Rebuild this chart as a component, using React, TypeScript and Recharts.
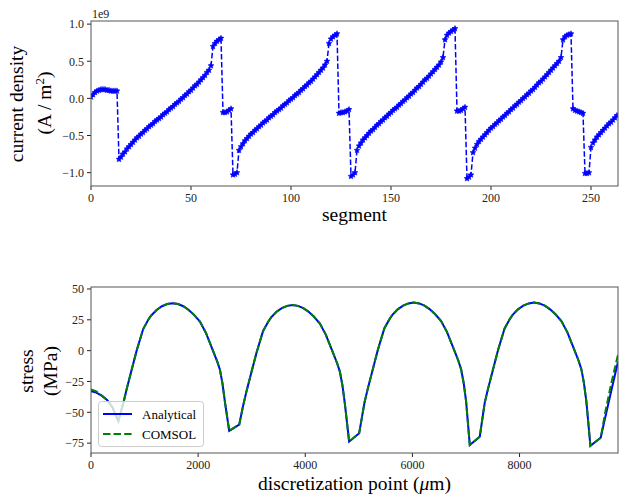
import React from 'react';
import { LineChart, Line, XAxis, YAxis } from 'recharts';

const FONT = '"Liberation Serif", "DejaVu Serif", serif';

// current density per segment (index = segment), in units of 1e9 A/m^2
const currentDensity = [
  0.02, 0.05, 0.08, 0.10, 0.11, 0.12, 0.12, 0.12, 0.11, 0.11, 0.10, 0.10, 0.10, 0.10,
  -0.82, -0.79, -0.75, -0.72, -0.68, -0.65, -0.62, -0.59, -0.56, -0.53,
  -0.51, -0.48, -0.46, -0.43, -0.41, -0.38, -0.36, -0.34, -0.31, -0.29,
  -0.27, -0.25, -0.22, -0.20, -0.18, -0.15, -0.13, -0.11, -0.08, -0.06,
  -0.04, -0.01, 0.01, 0.04, 0.06, 0.09, 0.11, 0.14, 0.17, 0.19,
  0.22, 0.25, 0.28, 0.31, 0.35, 0.38, 0.44,
  0.70, 0.74, 0.77, 0.79, 0.81,
  -0.19, -0.19, -0.18, -0.16, -0.14,
  -1.03, -1.02, -1.00,
  -0.70, -0.65, -0.61, -0.57, -0.54, -0.51, -0.48, -0.46, -0.43, -0.41,
  -0.38, -0.36, -0.33, -0.31, -0.29, -0.26, -0.24, -0.22, -0.19, -0.17,
  -0.15, -0.13, -0.10, -0.08, -0.06, -0.03, -0.01, 0.01, 0.04, 0.06,
  0.08, 0.11, 0.13, 0.16, 0.18, 0.21, 0.23, 0.26, 0.29, 0.32,
  0.35, 0.38, 0.41, 0.45, 0.50,
  0.74, 0.80, 0.83, 0.85, 0.87,
  -0.20, -0.19, -0.19, -0.18, -0.17, -0.15,
  -1.05, -1.03, -1.00,
  -0.70, -0.64, -0.60, -0.56, -0.53, -0.50, -0.47, -0.44, -0.42, -0.39,
  -0.36, -0.34, -0.31, -0.29, -0.26, -0.24, -0.21, -0.19, -0.16, -0.14,
  -0.12, -0.09, -0.07, -0.04, -0.02, 0.01, 0.03, 0.06, 0.08, 0.11,
  0.14, 0.16, 0.19, 0.22, 0.25, 0.27, 0.30, 0.33, 0.36, 0.39,
  0.42, 0.45, 0.49, 0.55,
  0.79, 0.85, 0.88, 0.90, 0.92, 0.94,
  -0.17, -0.17, -0.16, -0.14, -0.12,
  -1.08, -1.06, -1.03,
  -0.73, -0.67, -0.62, -0.58, -0.55, -0.52, -0.49, -0.46, -0.43, -0.40,
  -0.38, -0.35, -0.33, -0.30, -0.28, -0.25, -0.23, -0.20, -0.18, -0.15,
  -0.13, -0.10, -0.08, -0.05, -0.03, 0.00, 0.02, 0.05, 0.07, 0.10,
  0.12, 0.15, 0.18, 0.21, 0.23, 0.26, 0.29, 0.32, 0.35, 0.38,
  0.41, 0.44, 0.47, 0.50, 0.55,
  0.79, 0.83, 0.85, 0.86, 0.87,
  -0.14, -0.16, -0.17, -0.18, -0.19, -0.20,
  -1.01, -1.01, -1.00,
  -0.66, -0.60, -0.56, -0.52, -0.49, -0.46, -0.43, -0.40, -0.37, -0.34, -0.32, -0.29, -0.26, -0.23,
];
const segmentTicks = [0, 50, 100, 150, 200, 250];
const densityTicks = [-1, -0.5, 0, 0.5, 1];

// stress along the line (discretization point in um)
const stressX = [
  0, 100, 200, 300, 400, 510, 604, 664, 759, 852, 974, 1069, 1124, 1224, 1324, 1424, 1524,
  1624, 1724, 1824, 1924, 2034, 2144, 2254, 2354, 2407, 2454, 2500, 2580,
  2767, 2843, 2903, 2998, 3091, 3213, 3308, 3363, 3463, 3563, 3663, 3763,
  3863, 3963, 4063, 4163, 4273, 4383, 4493, 4593, 4646, 4693, 4739, 4819,
  5006, 5106, 5166, 5261, 5354, 5476, 5571, 5626, 5726, 5826, 5926, 6026,
  6126, 6226, 6326, 6426, 6536, 6646, 6756, 6856, 6909, 6956, 7002, 7071,
  7257, 7351, 7411, 7506, 7599, 7721, 7816, 7871, 7971, 8071, 8171, 8271,
  8371, 8471, 8571, 8671, 8781, 8891, 9001, 9101, 9154, 9201, 9247, 9323,
  9515, 9600, 9700, 9790, 9838,
];
const analytical = [
  -33, -34, -36.5, -40, -46, -57, -42.5, -31.5, -15.5, 0, 17.5, 25, 28.5, 33, 36, 37.8, 38.5,
  37.8, 36, 33, 29, 23.5, 14.5, 2.5, -8.5, -15.5, -26.5, -41.5, -65,
  -60, -44, -33, -17, -1.5, 16, 23.5, 27, 31.5, 34.5, 36.3, 37,
  36.3, 34.5, 31.5, 27.5, 22, 13, 1, -10, -17, -28, -43, -73.8,
  -67, -42, -31, -15, 0.5, 18, 25.5, 29, 33.5, 36.5, 38.3, 39,
  38.3, 36.5, 33.5, 29.5, 24, 15, 3, -8, -15, -26, -41, -76.5,
  -69.8, -42, -31, -15, 0.5, 18, 25.5, 29, 33.5, 36.5, 38.3, 39,
  38.3, 36.5, 33.5, 29.5, 24, 15, 3, -8, -15, -26, -41, -77.1,
  -70.6, -54, -35, -18, -9,
];
const comsol = [
  -31.5, -33, -36.5, -40, -46, -57, -42.5, -31.5, -15.5, 0, 17.5, 25, 28.5, 33, 36, 37.8, 38.5,
  37.8, 36, 33, 29, 23.5, 14.5, 2.5, -8.5, -15.5, -26.5, -41.5, -65,
  -60, -44, -33, -17, -1.5, 16, 23.5, 27, 31.5, 34.5, 36.3, 37,
  36.3, 34.5, 31.5, 27.5, 22, 13, 1, -10, -17, -28, -43, -73.8,
  -67, -42, -31, -15, 0.5, 18, 25.5, 29, 33.5, 36.5, 38.3, 39,
  38.3, 36.5, 33.5, 29.5, 24, 15, 3, -8, -15, -26, -41, -76.5,
  -69.8, -42, -31, -15, 0.5, 18, 25.5, 29, 33.5, 36.5, 38.3, 39,
  38.3, 36.5, 33.5, 29.5, 24, 15, 3, -8, -15, -26, -41, -77.1,
  -70.6, -50, -29, -12, -3.5,
];
const positionTicks = [0, 2000, 4000, 6000, 8000];
const stressTicks = [-75, -50, -25, 0, 25, 50];

const densityData = currentDensity.map((v, i) => ({ segment: i, density: v }));
const stressData = stressX.map((x, i) => ({ x, analytical: analytical[i], comsol: comsol[i] }));

const minus = (s: string) => s.replace('-', '\u2212');
const tickStyle = { fontFamily: FONT, fontSize: 12, fill: '#222' };
const tickLine = { stroke: '#222' };

function starPath(cx: number, cy: number, r: number) {
  const pts: string[] = [];
  for (let k = 0; k < 10; k++) {
    const rad = k % 2 === 0 ? r : r * 0.48;
    const a = -Math.PI / 2 + (k * Math.PI) / 5;
    pts.push(`${(cx + rad * Math.cos(a)).toFixed(2)},${(cy + rad * Math.sin(a)).toFixed(2)}`);
  }
  return `M${pts.join('L')}Z`;
}

function StarDot(props: any) {
  const { cx, cy, index } = props;
  if (cx == null || cy == null) return <g key={index} />;
  return <path key={index} d={starPath(cx, cy, 3.1)} fill="#0000ff" stroke="#0000ff" strokeWidth={0.5} />;
}

export default function App() {
  return (
    <div style={{ position: 'absolute', left: 0, top: 0, width: 626, height: 497, background: '#fff', fontFamily: FONT }}>
      <div style={{ position: 'absolute', left: 0, top: 0 }}>
        <LineChart width={626} height={240} data={densityData} margin={{ top: 21, right: 8, bottom: 0, left: 0 }}>
          <XAxis
            dataKey="segment"
            type="number"
            domain={[0, 263.5]}
            ticks={segmentTicks}
            allowDataOverflow
            height={54}
            axisLine={false}
            tickSize={4}
            tickMargin={3}
            tickLine={tickLine}
            tick={tickStyle}
          />
          <YAxis
            type="number"
            domain={[-1.18, 1.042]}
            ticks={densityTicks}
            allowDataOverflow
            width={91}
            axisLine={false}
            tickSize={4}
            tickMargin={3}
            tickLine={tickLine}
            tick={tickStyle}
            tickFormatter={(v: number) => minus(v.toFixed(1))}
          />
          <Line
            type="linear"
            dataKey="density"
            stroke="#0000ff"
            strokeWidth={1.5}
            strokeDasharray="5.5 2.4"
            dot={StarDot}
            isAnimationActive={false}
          />
        </LineChart>
      </div>
      <div style={{ position: 'absolute', left: 0, top: 250 }}>
        <LineChart width={626} height={247} data={stressData} margin={{ top: 37, right: 8, bottom: 0, left: 0 }}>
          <XAxis
            dataKey="x"
            type="number"
            domain={[0, 9838]}
            ticks={positionTicks}
            allowDataOverflow
            height={44}
            axisLine={false}
            tickSize={4}
            tickMargin={3}
            tickLine={tickLine}
            tick={tickStyle}
          />
          <YAxis
            type="number"
            domain={[-83, 51.6]}
            ticks={stressTicks}
            allowDataOverflow
            width={91}
            axisLine={false}
            tickSize={4}
            tickMargin={3}
            tickLine={tickLine}
            tick={tickStyle}
            tickFormatter={(v: number) => minus(String(v))}
          />
          <Line type="linear" dataKey="analytical" name="Analytical" stroke="#0000ff" strokeWidth={2} dot={false} isAnimationActive={false} />
          <Line type="linear" dataKey="comsol" name="COMSOL" stroke="#008000" strokeWidth={2} strokeDasharray="7.4 3.2" dot={false} isAnimationActive={false} />
        </LineChart>
      </div>
      <svg width={626} height={497} style={{ position: 'absolute', left: 0, top: 0, pointerEvents: 'none' }} fontFamily={FONT}>
        {/* axes frames */}
        <rect x={91} y={21} width={527} height={165} fill="none" stroke="#555" strokeWidth={1} />
        <rect x={91} y={287} width={527} height={166} fill="none" stroke="#555" strokeWidth={1} />

        {/* top panel texts */}
        <text x={92} y={18} fontSize={12} fill="#222">1e9</text>
        <text transform="translate(22.5,104) rotate(-90)" textAnchor="middle" fontSize={19.5} fill="#000">current density</text>
        <text transform="translate(51,103) rotate(-90)" textAnchor="middle" fontSize={19.5} fill="#000">
          (A / m<tspan dy={-7} fontSize={13}>2</tspan><tspan dy={7}>)</tspan>
        </text>
        <text x={354.5} y={221} textAnchor="middle" fontSize={19.5} fill="#000">segment</text>

        {/* bottom panel texts */}
        <text transform="translate(33,371) rotate(-90)" textAnchor="middle" fontSize={19.5} fill="#000">stress</text>
        <text transform="translate(56.5,371) rotate(-90)" textAnchor="middle" fontSize={19.5} fill="#000">(MPa)</text>
        <text x={354.5} y={490} textAnchor="middle" fontSize={19.5} fill="#000">
          discretization point (<tspan fontStyle="italic">μ</tspan>m)
        </text>

        {/* legend */}
        <rect x={98.5} y={401.5} width={105} height={45} rx={3} fill="#fff" fillOpacity={0.8} stroke="#ccc" />
        <line x1={103} y1={414} x2={132} y2={414} stroke="#0000ff" strokeWidth={2} />
        <text x={142} y={419} fontSize={13} fill="#000">Analytical</text>
        <line x1={103} y1={434} x2={132} y2={434} stroke="#008000" strokeWidth={2} strokeDasharray="7.4 3.2" />
        <text x={142} y={438.5} fontSize={13} fill="#000">COMSOL</text>
      </svg>
    </div>
  );
}
